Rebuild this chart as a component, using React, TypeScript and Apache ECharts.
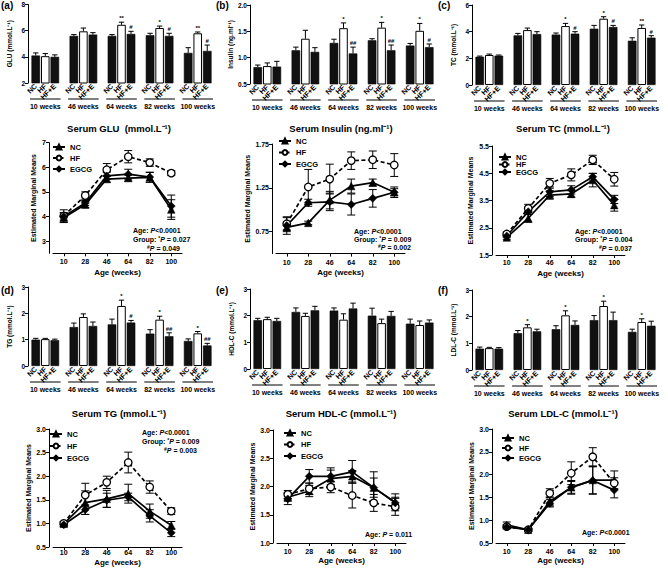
import React, { useEffect, useRef } from 'react';
import * as echarts from 'echarts';

const F = '"Liberation Sans", Arial, Helvetica, sans-serif';

// ---------- categories ----------
const WEEK_GROUPS = ['10 weeks', '46 weeks', '64 weeks', '82 weeks', '100 weeks'];
const BAR_CATS = ['NC', 'HF', 'HF+E'];
const AGES = ['10', '28', '46', '64', '82', '100'];
const GROUP_NAMES = ['NC', 'HF', 'EGCG'];

// ---------- bar data: per week group [NC, HF, HF+E] ----------
const GLU_BAR = [[4.1, 4.05, 4.0], [5.6, 5.95, 5.7], [5.6, 6.45, 5.75], [5.65, 6.2, 5.6], [4.3, 5.8, 4.45]];
const GLU_BAR_SEM = [[0.2, 0.2, 0.15], [0.1, 0.25, 0.15], [0.1, 0.2, 0.2], [0.15, 0.15, 0.2], [0.4, 0.1, 0.45]];
const GLU_BAR_SIG = [['', '', ''], ['', '', ''], ['', '**', '#'], ['', '*', '#'], ['', '**', '#']];

const INS_BAR = [[0.82, 0.84, 0.83], [1.14, 1.36, 1.11], [1.28, 1.56, 1.08], [1.33, 1.57, 1.14], [1.23, 1.51, 1.2]];
const INS_BAR_SEM = [[0.04, 0.06, 0.1], [0.06, 0.16, 0.08], [0.07, 0.1, 0.12], [0.03, 0.1, 0.1], [0.04, 0.14, 0.06]];
const INS_BAR_SIG = [['', '', ''], ['', '', ''], ['', '*', '##'], ['', '*', '##'], ['', '*', '#']];

const TC_BAR = [[2.12, 2.25, 2.2], [3.72, 4.12, 3.82], [3.78, 4.42, 3.85], [4.22, 4.97, 4.35], [3.32, 4.28, 3.55]];
const TC_BAR_SEM = [[0.05, 0.07, 0.05], [0.15, 0.15, 0.18], [0.12, 0.2, 0.15], [0.25, 0.15, 0.12], [0.22, 0.22, 0.15]];
const TC_BAR_SIG = [['', '', ''], ['', '', ''], ['', '*', '#'], ['', '*', '#'], ['', '**', '#']];

const TG_BAR = [[1.0, 1.02, 0.98], [1.48, 1.86, 1.52], [1.58, 2.28, 1.65], [1.23, 1.76, 1.13], [0.95, 1.24, 0.78]];
const TG_BAR_SEM = [[0.05, 0.03, 0.04], [0.15, 0.12, 0.15], [0.2, 0.22, 0.08], [0.15, 0.13, 0.13], [0.08, 0.07, 0.08]];
const TG_BAR_SIG = [['', '', ''], ['', '', ''], ['', '*', '#'], ['', '*', '##'], ['', '*', '##']];

const HDL_BAR = [[1.83, 1.87, 1.8], [2.14, 1.99, 2.2], [2.19, 1.85, 2.27], [2.0, 1.72, 1.99], [1.7, 1.65, 1.74]];
const HDL_BAR_SEM = [[0.07, 0.07, 0.1], [0.15, 0.1, 0.15], [0.1, 0.22, 0.2], [0.28, 0.15, 0.17], [0.17, 0.15, 0.1]];
const HDL_BAR_SIG = [['', '', ''], ['', '', ''], ['', '', ''], ['', '', ''], ['', '', '']];

const LDL_BAR = [[0.8, 0.82, 0.8], [1.38, 1.6, 1.45], [1.53, 2.05, 1.69], [1.87, 2.4, 1.87], [1.43, 1.8, 1.66]];
const LDL_BAR_SEM = [[0.06, 0.03, 0.04], [0.1, 0.1, 0.08], [0.13, 0.17, 0.15], [0.17, 0.18, 0.3], [0.1, 0.12, 0.17]];
const LDL_BAR_SIG = [['', '', ''], ['', '*', ''], ['', '*', ''], ['', '*', ''], ['', '*', '']];

// ---------- line data (estimated marginal means) ----------
const GLU_NC = [3.95, 4.48, 5.52, 5.56, 5.59, 4.28];
const GLU_HF = [4.02, 4.85, 5.9, 6.43, 6.19, 5.76];
const GLU_EGCG = [4.0, 4.55, 5.65, 5.72, 5.6, 4.42];
const GLU_NC_SEM = [0.2, 0.12, 0.12, 0.12, 0.2, 0.4];
const GLU_HF_SEM = [0.25, 0.15, 0.25, 0.25, 0.15, 0.1];
const GLU_EGCG_SEM = [0.15, 0.1, 0.15, 0.2, 0.2, 0.45];

const INS_NC = [0.8, 0.85, 1.11, 1.27, 1.31, 1.2];
const INS_HF = [0.84, 1.26, 1.35, 1.56, 1.57, 1.51];
const INS_EGCG = [0.82, 1.08, 1.09, 1.06, 1.13, 1.2];
const INS_NC_SEM = [0.05, 0.02, 0.1, 0.08, 0.04, 0.04];
const INS_HF_SEM = [0.07, 0.2, 0.17, 0.1, 0.1, 0.13];
const INS_EGCG_SEM = [0.1, 0.04, 0.1, 0.12, 0.1, 0.06];

const TC_NC = [2.14, 2.85, 3.7, 3.74, 4.25, 3.33];
const TC_HF = [2.27, 3.21, 4.13, 4.44, 4.99, 4.28];
const TC_EGCG = [2.2, 3.09, 3.82, 3.89, 4.37, 3.54];
const TC_NC_SEM = [0.06, 0.15, 0.15, 0.12, 0.25, 0.22];
const TC_HF_SEM = [0.07, 0.15, 0.18, 0.22, 0.17, 0.25];
const TC_EGCG_SEM = [0.05, 0.1, 0.18, 0.15, 0.12, 0.15];

const TG_NC = [0.99, 1.44, 1.52, 1.63, 1.26, 0.96];
const TG_HF = [1.0, 1.6, 1.87, 2.29, 1.77, 1.26];
const TG_EGCG = [0.97, 1.29, 1.49, 1.56, 1.16, 0.8];
const TG_NC_SEM = [0.05, 0.25, 0.18, 0.2, 0.15, 0.08];
const TG_HF_SEM = [0.03, 0.25, 0.13, 0.22, 0.13, 0.07];
const TG_EGCG_SEM = [0.04, 0.1, 0.15, 0.08, 0.13, 0.08];

const HDL_NC = [1.81, 1.92, 2.14, 2.18, 1.98, 1.72];
const HDL_HF = [1.86, 1.96, 1.99, 1.84, 1.71, 1.64];
const HDL_EGCG = [1.78, 2.18, 2.18, 2.26, 1.98, 1.71];
const HDL_NC_SEM = [0.07, 0.1, 0.15, 0.1, 0.28, 0.15];
const HDL_HF_SEM = [0.07, 0.1, 0.1, 0.22, 0.15, 0.15];
const HDL_EGCG_SEM = [0.1, 0.12, 0.15, 0.2, 0.17, 0.1];

const LDL_NC = [0.9, 0.79, 1.41, 1.72, 1.88, 1.88];
const LDL_HF = [0.86, 0.79, 1.59, 2.03, 2.39, 1.81];
const LDL_EGCG = [0.85, 0.79, 1.37, 1.72, 1.87, 1.66];
const LDL_NC_SEM = [0.06, 0.03, 0.1, 0.13, 0.3, 0.2];
const LDL_HF_SEM = [0.03, 0.03, 0.1, 0.25, 0.2, 0.12];
const LDL_EGCG_SEM = [0.04, 0.03, 0.08, 0.15, 0.3, 0.17];

// ---------- panel layout ----------
const COLS = [0, 222, 444];
const ROWS = [0, 285];

const BAR_PANELS: any[] = [
  { col: 0, row: 0, letter: '(a)', title: 'Serum GLU  (mmol.L⁻¹)', yName: 'GLU (mmol.L⁻¹)', min: 2, max: 8, interval: 2, dec: 0, means: GLU_BAR, sem: GLU_BAR_SEM, sig: GLU_BAR_SIG, top: 4.5, height: 78.5 },
  { col: 1, row: 0, letter: '(b)', title: 'Serum Insulin (ng.ml⁻¹)', yName: 'Insulin (ng.ml⁻¹)', min: 0.5, max: 2, interval: 0.5, dec: 1, means: INS_BAR, sem: INS_BAR_SEM, sig: INS_BAR_SIG, top: 5, height: 79 },
  { col: 2, row: 0, letter: '(c)', title: 'Serum TC (mmol.L⁻¹)', yName: 'TC (mmol.L⁻¹)', min: 0, max: 6, interval: 2, dec: 0, means: TC_BAR, sem: TC_BAR_SEM, sig: TC_BAR_SIG, top: 5, height: 80 },
  { col: 0, row: 1, letter: '(d)', title: 'Serum TG (mmol.L⁻¹)', yName: 'TG (mmol.L⁻¹)', min: 0, max: 3, interval: 1, dec: 0, means: TG_BAR, sem: TG_BAR_SEM, sig: TG_BAR_SIG, top: 2, height: 79 },
  { col: 1, row: 1, letter: '(e)', title: 'Serum HDL-C (mmol.L⁻¹)', yName: 'HDL-C (mmol.L⁻¹)', min: 0, max: 3, interval: 1, dec: 0, means: HDL_BAR, sem: HDL_BAR_SEM, sig: HDL_BAR_SIG, top: 4, height: 80 },
  { col: 2, row: 1, letter: '(f)', title: 'Serum LDL-C (mmol.L⁻¹)', yName: 'LDL-C (mmol.L⁻¹)', min: 0, max: 3, interval: 1, dec: 0, means: LDL_BAR, sem: LDL_BAR_SEM, sig: LDL_BAR_SIG, top: 5, height: 80 },
];

const LINE_PANELS: any[] = [
  { col: 0, row: 0, min: 2.5, max: 7, ticks: [3, 4, 5, 6, 7], dec: 0, vals: [GLU_NC, GLU_HF, GLU_EGCG], sems: [GLU_NC_SEM, GLU_HF_SEM, GLU_EGCG_SEM],
    left: 53, top: 142.7, height: 110.6, yNameGap: 12, xLabelMargin: 5, xNameGap: 15,
    legend: { left: 52, top: 142.5, gap: 2 },
    notes: [{ x: 133, y: 230, t: '{b|Age: }{i|P}{b|<0.0001}' }, { x: 133, y: 239, t: '{b|Group: }{s|*}{i|P}{b| = 0.027}' }, { x: 180, y: 248, t: '{s|#}{i|P}{b| = 0.049}', right: true }] },
  { col: 1, row: 0, min: 0.5, max: 1.75, ticks: [0.75, 1.25, 1.75], dec: 2, vals: [INS_NC, INS_HF, INS_EGCG], sems: [INS_NC_SEM, INS_HF_SEM, INS_EGCG_SEM],
    left: 54, top: 144, height: 109.6, yNameGap: 20, xLabelMargin: 5, xNameGap: 15,
    legend: { left: 56, top: 136.5, gap: 2.5 },
    notes: [{ x: 132, y: 231, t: '{b|Age: }{i|P}{b|<0.0001}' }, { x: 132, y: 239, t: '{b|Group: }{s|*}{i|P}{b| = 0.009}' }, { x: 189, y: 247, t: '{s|#}{i|P}{b| = 0.002}', right: true }] },
  { col: 2, row: 0, min: 1.5, max: 5.5, ticks: [1.5, 2.5, 3.5, 4.5, 5.5], dec: 1, vals: [TC_NC, TC_HF, TC_EGCG], sems: [TC_NC_SEM, TC_HF_SEM, TC_EGCG_SEM],
    left: 52, top: 146, height: 109, yNameGap: 18, xLabelMargin: 4, xNameGap: 14,
    legend: { left: 54, top: 152.5, gap: -1.5 },
    notes: [{ x: 131, y: 231, t: '{b|Age: }{i|P}{b|<0.0001}' }, { x: 131, y: 239, t: '{b|Group: }{s|*}{i|P}{b| = 0.004}' }, { x: 188, y: 248, t: '{s|#}{i|P}{b| = 0.037}', right: true }] },
  { col: 0, row: 1, min: 0.5, max: 3, ticks: [0.5, 1, 1.5, 2, 2.5, 3], dec: 1, vals: [TG_NC, TG_HF, TG_EGCG], sems: [TG_NC_SEM, TG_HF_SEM, TG_EGCG_SEM],
    left: 53, top: 144, height: 118, yNameGap: 10, xLabelMargin: 2, xNameGap: 11,
    legend: { left: 49, top: 144.5, gap: 3 },
    notes: [{ x: 142, y: 147, t: '{b|Age: }{i|P}{b|<0.0001}' }, { x: 142, y: 156, t: '{b|Group: }{s|*}{i|P}{b| = 0.009}' }, { x: 197, y: 165, t: '{s|#}{i|P}{b| = 0.003}', right: true }] },
  { col: 1, row: 1, min: 1, max: 3, ticks: [1, 1.5, 2, 2.5, 3], dec: 1, vals: [HDL_NC, HDL_HF, HDL_EGCG], sems: [HDL_NC_SEM, HDL_HF_SEM, HDL_EGCG_SEM],
    left: 55, top: 145, height: 113, yNameGap: 17, xLabelMargin: 5, xNameGap: 13,
    legend: { left: 61, top: 143.5, gap: 2.5 },
    notes: [{ x: 143, y: 249, t: '{b|Age: }{i|P}{b| = 0.011}' }] },
  { col: 2, row: 1, min: 0.5, max: 3, ticks: [0.5, 1, 1.5, 2, 2.5, 3], dec: 1, vals: [LDL_NC, LDL_HF, LDL_EGCG], sems: [LDL_NC_SEM, LDL_HF_SEM, LDL_EGCG_SEM],
    left: 52, top: 144, height: 114, yNameGap: 13, xLabelMargin: 5, xNameGap: 13,
    legend: { left: 57, top: 148.5, gap: 1 },
    notes: [{ x: 138, y: 247, t: '{b|Age: }{i|P}{b|<0.0001}' }] },
];

const AX_LINE = { show: true, lineStyle: { color: '#000', width: 1 } };
const LBL = (size: number, extra: any = {}) => ({ fontSize: size, fontWeight: 'bold', fontFamily: F, color: '#000', ...extra });

function buildOption() {
  const grid: any[] = [];
  const xAxis: any[] = [];
  const yAxis: any[] = [];
  const series: any[] = [];
  const legend: any[] = [];
  const graphic: any[] = [];

  BAR_PANELS.forEach((p) => {
    const x0 = COLS[p.col];
    const y0 = ROWS[p.row];
    const gi = grid.length;
    grid.push({ left: x0 + 31, top: y0 + p.top, width: 181, height: p.height, outerBoundsMode: 'none' });
    const cats: string[] = [];
    const barData: any[] = [];
    const errData: any[] = [];
    const sigs: string[] = [];
    WEEK_GROUPS.forEach((_, g) => {
      BAR_CATS.forEach((c, k) => {
        const idx = cats.length;
        cats.push(c);
        const v = p.means[g][k];
        barData.push({
          value: v,
          itemStyle: k === 1
            ? { color: '#fff', borderColor: '#000', borderWidth: 1 }
            : { color: '#111', borderColor: '#000', borderWidth: 0.6 },
        });
        errData.push([idx, v, p.sem[g][k]]);
        sigs.push(p.sig[g][k]);
      });
      if (g < WEEK_GROUPS.length - 1) {
        cats.push('');
        barData.push('-');
      }
    });
    xAxis.push({
      type: 'category', gridIndex: gi, data: cats, boundaryGap: true,
      axisLine: { show: false }, axisTick: { show: false },
      axisLabel: { interval: 0, rotate: 45, margin: 2, ...LBL(7.2) },
    });
    yAxis.push({
      type: 'value', gridIndex: gi, min: p.min, max: p.max, interval: p.interval, offset: 3,
      name: p.yName, nameLocation: 'middle', nameGap: 15, nameRotate: 90,
      nameTextStyle: LBL(6.5),
      axisLine: AX_LINE, axisTick: { show: true, length: 3, lineStyle: { color: '#000', width: 1 } },
      axisLabel: { margin: 3, ...LBL(6.5), formatter: (v: number) => v.toFixed(p.dec) },
      splitLine: { show: false },
    });
    series.push({
      type: 'bar', name: 'bars' + gi, xAxisIndex: gi, yAxisIndex: gi, data: barData,
      barCategoryGap: '10%', z: 2, silent: true,
    });
    series.push({
      type: 'custom', name: 'barErr' + gi, xAxisIndex: gi, yAxisIndex: gi, data: errData, z: 3, silent: true, clip: false,
      renderItem: (params: any, api: any) => {
        const i = params.dataIndex;
        const x = api.value(0), m = api.value(1), e = api.value(2);
        const a = api.coord([x, m]);
        const b = api.coord([x, m + e]);
        const w = api.size([1, 0])[0] * 0.28;
        const children: any[] = [
          { type: 'line', shape: { x1: a[0], y1: a[1], x2: b[0], y2: b[1] }, style: { stroke: '#000', lineWidth: 1 } },
          { type: 'line', shape: { x1: b[0] - w, y1: b[1], x2: b[0] + w, y2: b[1] }, style: { stroke: '#000', lineWidth: 1 } },
        ];
        const s = sigs[i];
        if (s) {
          children.push({ type: 'text', x: b[0], y: b[1] - 1, style: { text: s, align: 'center', verticalAlign: 'bottom', fontSize: 6, fontWeight: 'bold', fontFamily: F, fill: '#000' } });
        }
        return { type: 'group', children };
      },
    });
    series.push({
      type: 'custom', name: 'weeks' + gi, xAxisIndex: gi, yAxisIndex: gi, silent: true, clip: false,
      data: WEEK_GROUPS.map((_, g) => [g * 4 + 1, p.min]),
      renderItem: (params: any, api: any) => {
        const c = api.coord([api.value(0), api.value(1)]);
        const band = api.size([1, 0])[0];
        const half = band * 1.5 + 1;
        const yl = c[1] + 16;
        return {
          type: 'group',
          children: [
            { type: 'line', shape: { x1: c[0] - half, y1: yl, x2: c[0] + half, y2: yl }, style: { stroke: '#000', lineWidth: 1 } },
            { type: 'text', x: c[0], y: yl + 4, style: { text: WEEK_GROUPS[params.dataIndex], align: 'center', verticalAlign: 'top', fontSize: 7, fontWeight: 'bold', fontFamily: F, fill: '#000' } },
          ],
        };
      },
    });
    graphic.push({ type: 'text', x: x0 + (p.col === 0 ? 1 : -6), y: y0, style: { text: p.letter, fontSize: 10, fontWeight: 'bold', fontFamily: F, fill: '#000', verticalAlign: 'top' } });
    graphic.push({ type: 'text', x: x0 + 119, y: y0 + 128, style: { text: p.title, align: 'center', verticalAlign: 'middle', fontSize: 9.5, fontWeight: 'bold', fontFamily: F, fill: '#000' } });
  });

  const SYMBOLS = ['triangle', 'circle', 'diamond'];
  LINE_PANELS.forEach((p) => {
    const x0 = COLS[p.col];
    const y0 = ROWS[p.row];
    const gi = grid.length;
    grid.push({ left: x0 + p.left, top: y0 + p.top, width: 129, height: p.height, outerBoundsMode: 'none' });
    xAxis.push({
      type: 'category', gridIndex: gi, data: AGES, boundaryGap: true,
      axisLine: AX_LINE, axisTick: { show: true, alignWithLabel: true, length: 3, lineStyle: { color: '#000', width: 1 } },
      axisLabel: { margin: p.xLabelMargin, ...LBL(7) },
      name: 'Age (weeks)', nameLocation: 'middle', nameGap: p.xNameGap, nameTextStyle: LBL(8),
    });
    yAxis.push({
      type: 'value', gridIndex: gi, min: p.min, max: p.max, offset: 4,
      name: 'Estimated Marginal Means', nameLocation: 'middle', nameGap: p.yNameGap, nameRotate: 90,
      nameTextStyle: LBL(7),
      axisLine: AX_LINE,
      axisTick: { show: true, length: 3, customValues: p.ticks, lineStyle: { color: '#000', width: 1 } },
      axisLabel: { margin: 3, customValues: p.ticks, ...LBL(7), formatter: (v: number) => v.toFixed(p.dec) },
      splitLine: { show: false },
    });
    GROUP_NAMES.forEach((name, s) => {
      const vals = p.vals[s];
      const sems = p.sems[s];
      series.push({
        type: 'custom', name: 'err' + gi + '_' + s, xAxisIndex: gi, yAxisIndex: gi, silent: true, clip: false, z: 3,
        data: vals.map((v: number, i: number) => [i, v, sems[i]]),
        renderItem: (params: any, api: any) => {
          const x = api.value(0), m = api.value(1), e = api.value(2);
          const a = api.coord([x, m - e]);
          const b = api.coord([x, m + e]);
          const w = 4;
          const st = { stroke: '#000', lineWidth: 1 };
          return {
            type: 'group',
            children: [
              { type: 'line', shape: { x1: a[0], y1: a[1], x2: b[0], y2: b[1] }, style: st },
              { type: 'line', shape: { x1: a[0] - w, y1: a[1], x2: a[0] + w, y2: a[1] }, style: st },
              { type: 'line', shape: { x1: b[0] - w, y1: b[1], x2: b[0] + w, y2: b[1] }, style: st },
            ],
          };
        },
      });
      series.push({
        type: 'line', name, xAxisIndex: gi, yAxisIndex: gi, data: vals, z: 4, silent: true,
        symbol: SYMBOLS[s], symbolSize: s === 2 ? 8 : 7.5, showAllSymbol: true,
        itemStyle: s === 1 ? { color: '#fff', borderColor: '#000', borderWidth: 1.3 } : { color: '#000', borderColor: '#000', borderWidth: 0.5 },
        lineStyle: { color: '#000', width: 1.7, type: s === 1 ? [4, 2.5] : 'solid' },
      });
    });
    legend.push({
      data: GROUP_NAMES, orient: 'vertical', left: x0 + p.legend.left, top: y0 + p.legend.top,
      itemWidth: 12, itemHeight: 6, itemGap: p.legend.gap + 0, padding: 0, selectedMode: false,
      textStyle: { ...LBL(7.5), lineHeight: 9 },
    });
    p.notes.forEach((n: any) => {
      graphic.push({
        type: 'text', x: x0 + n.x, y: y0 + n.y,
        style: {
          text: n.t, align: n.right ? 'right' : 'left', verticalAlign: 'middle',
          fontSize: 7, fontWeight: 'bold', fontFamily: F, fill: '#000',
          rich: {
            b: { fontSize: 7, fontWeight: 'bold', fontFamily: F, fill: '#000' },
            i: { fontSize: 7, fontWeight: 'bold', fontStyle: 'italic', fontFamily: F, fill: '#000' },
            s: { fontSize: 5, fontWeight: 'bold', fontFamily: F, fill: '#000', verticalAlign: 'top' },
          },
        },
      });
    });
  });

  return {
    animation: false,
    backgroundColor: '#fff',
    textStyle: { fontFamily: F },
    grid, xAxis, yAxis, series, legend, graphic,
  };
}

export default function App() {
  const ref = useRef<HTMLDivElement>(null);
  useEffect(() => {
    if (!ref.current) return;
    const chart = echarts.init(ref.current, null, { renderer: 'svg' });
    chart.setOption(buildOption() as any);
    return () => chart.dispose();
  }, []);
  return <div ref={ref} style={{ position: 'absolute', left: 0, top: 0, width: 668, height: 569, background: '#fff' }} />;
}
